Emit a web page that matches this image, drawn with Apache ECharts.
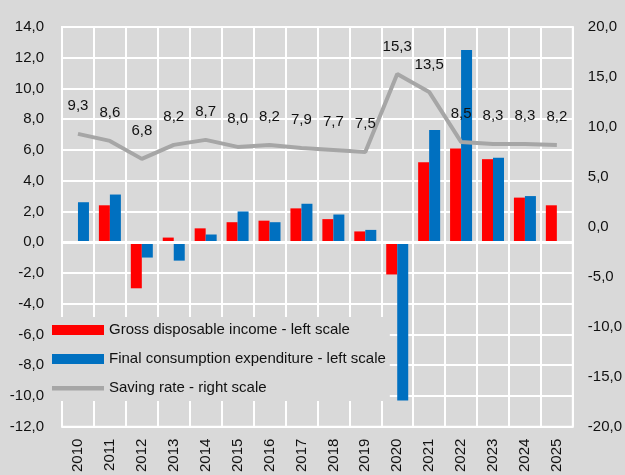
<!DOCTYPE html>
<html>
<head>
<meta charset="utf-8">
<title>Income, consumption and saving rate</title>
<script src="https://cdn.jsdelivr.net/npm/echarts@6/dist/echarts.min.js"></script>
<style>
    html, body { margin: 0; padding: 0; background: #d9d9d9; }
    #chart { width: 625px; height: 475px; }
</style>
</head>
<body>
<div id="chart"></div>
<script>
    var years = ['2010','2011','2012','2013','2014','2015','2016','2017','2018','2019','2020','2021','2022','2023','2024','2025'];
    var income = [-0.1, 2.4, -3.0, 0.3, 0.9, 1.3, 1.4, 2.2, 1.5, 0.7, -2.1, 5.2, 6.1, 5.4, 2.9, 2.4];
    var consumption = [2.6, 3.1, -1.0, -1.2, 0.5, 2.0, 1.3, 2.5, 1.8, 0.8, -10.3, 7.3, 12.5, 5.5, 3.0, null];
    var savingRate = [9.3, 8.6, 6.8, 8.2, 8.7, 8.0, 8.2, 7.9, 7.7, 7.5, 15.3, 13.5, 8.5, 8.3, 8.3, 8.2];

    var font = 'Liberation Sans, Arial, sans-serif';
    var txt = '#111';
    // thin band in the middle of the legend box, used as the line's legend key
    var lineIcon = 'path://M0,0 L0.01,0 L0,0 Z M0,3 L52,3 L52,7.5 L0,7.5 Z M0,10 L0.01,10 L0,10 Z';

    function comma(v) {
        return Number(v).toFixed(1).replace('.', ',');
    }

    var myChart = echarts.init(document.getElementById('chart'), null, { renderer: 'canvas' });
    var option = {
        backgroundColor: '#d9d9d9',
        animation: false,
        textStyle: { fontFamily: font },
        grid: {
            left: 62, right: 50, top: 27, bottom: 45,
            show: true, borderColor: '#ffffff', borderWidth: 2, backgroundColor: 'transparent'
        },
        legend: {
            orient: 'vertical',
            left: 50,
            top: 317,
            padding: [4, 4, 4, 2],
            backgroundColor: '#d9d9d9',
            itemWidth: 52,
            itemHeight: 10,
            itemGap: 11,
            textStyle: { fontFamily: font, fontSize: 15, color: txt, lineHeight: 18 },
            data: [
                { name: 'Gross disposable income - left scale', icon: 'rect' },
                { name: 'Final consumption expenditure - left scale', icon: 'rect' },
                { name: 'Saving rate - right scale', icon: lineIcon, itemStyle: { color: '#a6a6a6', borderWidth: 0 } }
            ]
        },
        xAxis: {
            type: 'category',
            data: years,
            axisLine: { show: false, onZero: false },
            axisTick: { show: false },
            splitLine: { show: true, interval: 0, lineStyle: { color: '#ffffff', width: 2 } },
            axisLabel: {
                interval: 0, rotate: 90, margin: 12,
                fontFamily: font, fontSize: 15, color: txt
            }
        },
        yAxis: [
            {
                type: 'value', min: -12, max: 14, interval: 2,
                axisLine: { show: false },
                axisTick: { show: false },
                splitLine: { show: true, lineStyle: { color: '#ffffff', width: 2 } },
                axisLabel: { margin: 18, fontFamily: font, fontSize: 15, color: txt, formatter: comma }
            },
            {
                type: 'value', min: -20, max: 20, interval: 5,
                axisLine: { show: false },
                axisTick: { show: false },
                splitLine: { show: false },
                axisLabel: { margin: 15, fontFamily: font, fontSize: 15, color: txt, formatter: comma }
            }
        ],
        series: [
            {
                name: 'Gross disposable income - left scale',
                type: 'bar',
                data: income,
                barWidth: 11,
                barGap: '0%',
                itemStyle: { color: '#ff0000' },
                markLine: {
                    silent: true,
                    symbol: 'none',
                    label: { show: false },
                    lineStyle: { color: '#ffffff', width: 3, type: 'solid' },
                    data: [{ yAxis: 0 }]
                }
            },
            {
                name: 'Final consumption expenditure - left scale',
                type: 'bar',
                data: consumption,
                barWidth: 11,
                barGap: '0%',
                itemStyle: { color: '#0070c0' }
            },
            {
                name: 'Saving rate - right scale',
                type: 'line',
                yAxisIndex: 1,
                data: savingRate,
                symbol: 'circle',
                symbolSize: 0.1,
                showSymbol: true,
                z: 5,
                lineStyle: { color: '#a6a6a6', width: 4 },
                itemStyle: { color: '#a6a6a6' },
                label: {
                    show: true, position: 'top', distance: 20,
                    fontFamily: font, fontSize: 15, color: txt,
                    formatter: function (p) { return comma(p.value); }
                },
                labelLayout: { hideOverlap: false }
            }
        ]
    };
    myChart.setOption(option);
</script>
</body>
</html>
